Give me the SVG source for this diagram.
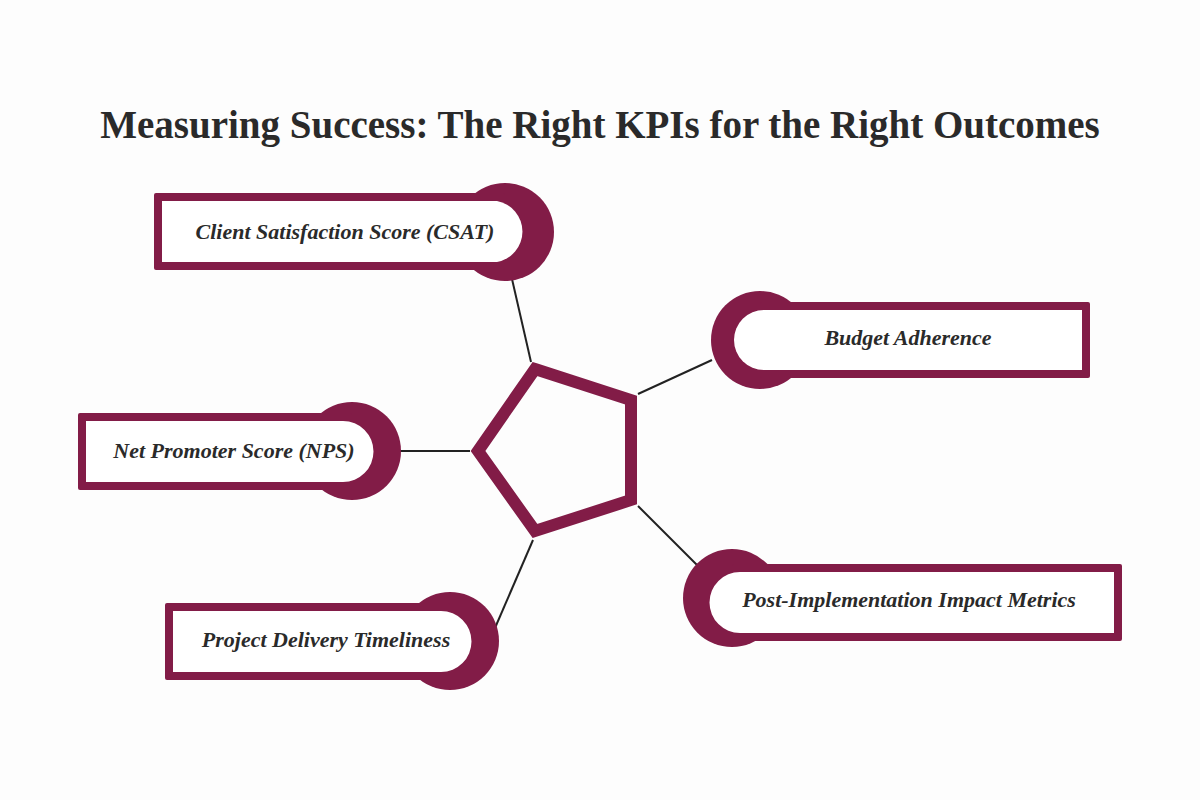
<svg xmlns="http://www.w3.org/2000/svg" width="1200" height="800" viewBox="0 0 1200 800">
<style>
.m{fill:#821C47}
.w{fill:#fff}
.t{font-family:"Liberation Serif",serif;font-weight:bold;font-style:italic;font-size:22px;fill:#2a2a2a;text-anchor:middle}
.c{stroke:#222;stroke-width:2;fill:none}
</style>
<rect width="1200" height="800" fill="#fdfdfd"/>
<text x="600" y="138" font-family="Liberation Serif,serif" font-weight="bold" font-size="39" fill="#2a2a2a" text-anchor="middle">Measuring Success: The Right KPIs for the Right Outcomes</text>
<g id="connectors">
<line class="c" x1="531" y1="362" x2="512" y2="279"/>
<line class="c" x1="638" y1="394" x2="712" y2="360"/>
<line class="c" x1="470" y1="451" x2="370" y2="451"/>
<line class="c" x1="638" y1="506" x2="700" y2="568"/>
<line class="c" x1="533" y1="540" x2="495" y2="628"/>
</g>
<g id="center"><polygon points="535,369 631,400 631,500 535,531 478,451" fill="none" stroke="#821C47" stroke-width="12" stroke-linejoin="miter"/></g>
<g id="csat">
<circle class="m" cx="505" cy="232" r="49"/>
<rect class="m" x="154" y="193" width="351" height="77" rx="2"/>
<path class="w" d="M162,201 H497 A31,31 0 0 1 497,262 H162 Z"/>
<text class="t" x="345" y="239">Client Satisfaction Score (CSAT)</text>
</g>
<g id="budget">
<circle class="m" cx="760" cy="340" r="49"/>
<rect class="m" x="760" y="302" width="330" height="76" rx="2"/>
<path class="w" d="M1082,310 H764 A30,30 0 0 0 764,370 H1082 Z"/>
<text class="t" x="908" y="345">Budget Adherence</text>
</g>
<g id="nps">
<circle class="m" cx="352" cy="451" r="49"/>
<rect class="m" x="78" y="413" width="274" height="77" rx="2"/>
<path class="w" d="M86,421 H343 A30,30 0 0 1 343,482 H86 Z"/>
<text class="t" x="234" y="458">Net Promoter Score (NPS)</text>
</g>
<g id="delivery">
<circle class="m" cx="450" cy="641" r="49"/>
<rect class="m" x="165" y="603" width="285" height="77" rx="2"/>
<path class="w" d="M173,611 H441 A30,30 0 0 1 441,672 H173 Z"/>
<text class="t" x="326" y="647">Project Delivery Timeliness</text>
</g>
<g id="impact">
<circle class="m" cx="732" cy="598" r="49"/>
<rect class="m" x="732" y="564" width="390" height="77" rx="2"/>
<path class="w" d="M1114,572 H740 A30,30 0 0 0 740,633 H1114 Z"/>
<text class="t" x="909" y="607">Post-Implementation Impact Metrics</text>
</g>
</svg>
